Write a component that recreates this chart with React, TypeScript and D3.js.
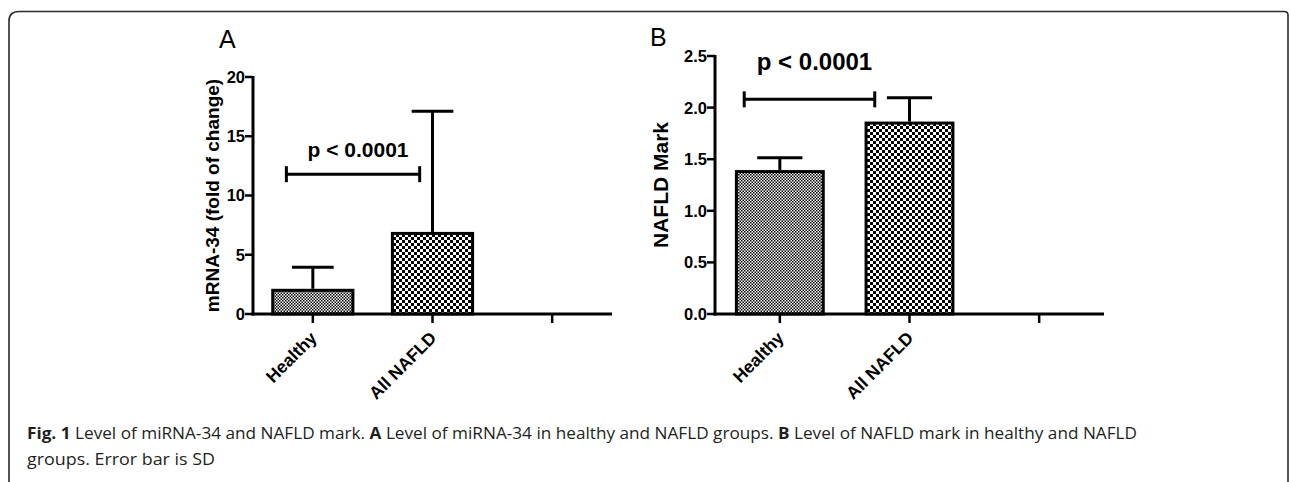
import React from 'react';
import * as d3 from 'd3';

// values
const categories = ['Healthy', 'All NAFLD', ''];
const mirnaMean = [2.0, 6.8];
const mirnaSD = [1.95, 10.3];
const nafldMean = [1.38, 1.85];
const nafldSD = [0.135, 0.245];
const mirnaTicks = [0, 5, 10, 15, 20];
const nafldTicks = [0, 0.5, 1, 1.5, 2, 2.5];
const pLabel = 'p < 0.0001';
const mirnaBracket = 11.8;
const nafldBracket = 2.08;

const FONT = '"Liberation Sans", Arial, sans-serif';

const Panel = ({ letter, title, means, sds, ticks, yMax, bracket, left, right, top, bottom,
  tickFmt, titleSize, titleOff, pSize, pY, letterX, letterY, brL, brR }) => {
  const x = d3.scaleBand().domain(categories).range([left, right]).paddingInner(0.33).paddingOuter(0.165);
  const y = d3.scaleLinear().domain([0, yMax]).range([bottom, top]);
  const bw = x.bandwidth();
  const cx = (c) => x(c) + bw / 2;
  const b0 = cx(categories[0]) + bw * brL;
  const b1 = cx(categories[1]) + bw * brR;
  return (
    <g>
      <text x={letterX} y={letterY} fontFamily={FONT} fontSize={25}>{letter}</text>
      {/* bars */}
      {means.map((m, i) => (
        <rect key={i} x={x(categories[i])} y={y(m)} width={bw} height={bottom - y(m)}
          fill={i == 0 ? 'url(#fine)' : 'url(#coarse)'} stroke="#000" strokeWidth={3} />
      ))}
      {/* error bars, upper side only */}
      {means.map((m, i) => (
        <g key={'e' + i} stroke="#000" strokeWidth={3}>
          <line x1={cx(categories[i])} x2={cx(categories[i])} y1={y(m) - 1.5} y2={y(m + sds[i])} />
          <line x1={cx(categories[i]) - bw * 0.26} x2={cx(categories[i]) + bw * 0.26}
            y1={y(m + sds[i])} y2={y(m + sds[i])} />
        </g>
      ))}
      {/* axes */}
      <line x1={left} x2={left} y1={top - 1} y2={bottom + 1.5} stroke="#000" strokeWidth={3} />
      <line x1={left - 1.5} x2={right} y1={bottom} y2={bottom} stroke="#000" strokeWidth={3} />
      {ticks.map((t) => (
        <g key={t}>
          <line x1={left - 8} x2={left} y1={y(t)} y2={y(t)} stroke="#000" strokeWidth={2.5} />
          <text x={left - 8} y={y(t)} dy="0.36em" textAnchor="end" fontFamily={FONT}
            fontWeight="bold" fontSize={16.5}>{tickFmt(t)}</text>
        </g>
      ))}
      {categories.map((c, i) => (
        <g key={'x' + i}>
          <line x1={cx(c)} x2={cx(c)} y1={bottom} y2={bottom + 9} stroke="#000" strokeWidth={2.5} />
          {c && (
            <text transform={`translate(${cx(c) + 5},${bottom + 25}) rotate(-45)`} textAnchor="end"
              fontFamily={FONT} fontWeight="bold" fontSize={17.5}>{c}</text>
          )}
        </g>
      ))}
      <text transform={`translate(${left - titleOff},${(top + bottom) / 2}) rotate(-90)`} textAnchor="middle"
        dominantBaseline="central" fontFamily={FONT} fontWeight="bold" fontSize={titleSize}>{title}</text>
      {/* significance bracket */}
      <g stroke="#000" strokeWidth={3}>
        <line x1={b0} x2={b1} y1={y(bracket)} y2={y(bracket)} />
        <line x1={b0} x2={b0} y1={y(bracket) - 8} y2={y(bracket) + 8} />
        <line x1={b1} x2={b1} y1={y(bracket) - 8} y2={y(bracket) + 8} />
      </g>
      <text x={(b0 + b1) / 2 + 5} y={pY} textAnchor="middle" fontFamily={FONT} fontWeight="bold"
        fontSize={pSize}>{pLabel}</text>
    </g>
  );
};

export default function App() {
  return (
    <svg width={1290} height={482} style={{ position: 'absolute', left: 0, top: 0, background: '#fff' }}>
      <defs>
        <pattern id="fine" width={3} height={3} patternUnits="userSpaceOnUse">
          <rect width={3} height={3} fill="#fff" />
          <rect width={1.5} height={1.5} fill="#000" />
          <rect x={1.5} y={1.5} width={1.5} height={1.5} fill="#000" />
        </pattern>
        <pattern id="coarse" width={6} height={6} patternUnits="userSpaceOnUse">
          <rect width={6} height={6} fill="#fff" />
          <rect width={3} height={3} fill="#000" />
          <rect x={3} y={3} width={3} height={3} fill="#000" />
        </pattern>
      </defs>
      <path d="M9,500 L9,21 Q9,11.5 19,11.5 L1284,11.5 Q1288,11.5 1288,15 L1288,500"
        fill="none" stroke="#2a2a2a" strokeWidth={1.6} />
      <Panel letter="A" title="mRNA-34 (fold of change)" means={mirnaMean} sds={mirnaSD} ticks={mirnaTicks}
        yMax={20} bracket={mirnaBracket} left={253} right={612} top={77} bottom={314}
        tickFmt={(t) => String(t)} titleSize={19} titleOff={41} pSize={21} pY={157} letterX={219} letterY={48}
        brL={-0.33} brR={-0.16} />
      <Panel letter="B" title="NAFLD Mark" means={nafldMean} sds={nafldSD} ticks={nafldTicks}
        yMax={2.5} bracket={nafldBracket} left={715} right={1104} top={56} bottom={314}
        tickFmt={(t) => t.toFixed(1)} titleSize={21} titleOff={55} pSize={24} pY={70} letterX={650} letterY={46}
        brL={-0.41} brR={-0.40} />
      <g fontFamily='"Open Sans", sans-serif' fontSize={15.5} fill="#231f20">
        <text x={27} y={439} textLength={1110} lengthAdjust="spacingAndGlyphs">
          <tspan fontWeight="bold">Fig. 1</tspan> Level of miRNA-34 and NAFLD mark. <tspan fontWeight="bold">A</tspan> Level
          of miRNA-34 in healthy and NAFLD groups. <tspan fontWeight="bold">B</tspan> Level of NAFLD mark in healthy and NAFLD
        </text>
        <text x={27} y={465} textLength={188} lengthAdjust="spacingAndGlyphs">groups. Error bar is SD</text>
      </g>
    </svg>
  );
}
